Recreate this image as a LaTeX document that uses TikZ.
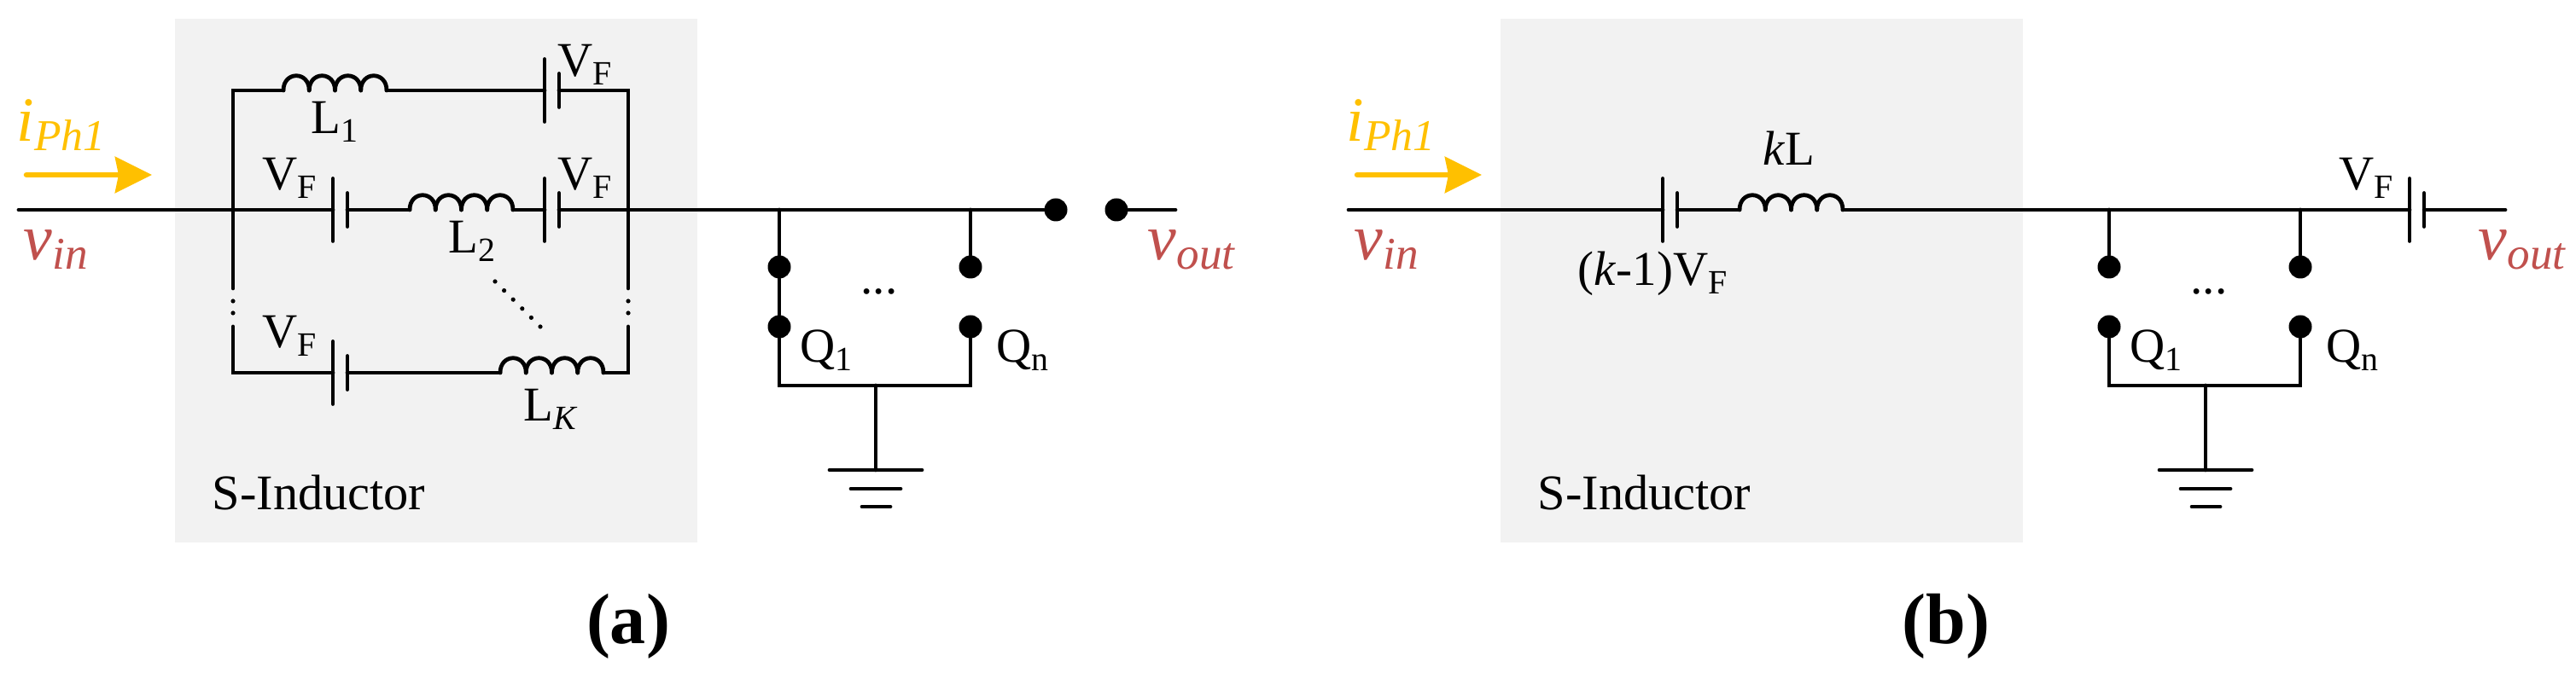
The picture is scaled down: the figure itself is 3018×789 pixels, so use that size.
\documentclass[tikz,border=0pt]{standalone}
\usepackage{fontspec}
\setmainfont{Liberation Serif}
\usetikzlibrary{arrows.meta}
\definecolor{sindgray}{RGB}{242, 242, 242}
\definecolor{iphyellow}{RGB}{255, 192, 0}
\definecolor{vred}{RGB}{192, 80, 77}

\begin{document}
\begin{tikzpicture}[
    x=0.01cm, y=-0.01cm,
    wire/.style={line width=1.35pt, line cap=round},
    sindbox/.style={fill=sindgray},
    lbl/.style={inner sep=0pt, anchor=base west, font=\fontsize{16.2}{18}\selectfont},
    boxlbl/.style={lbl, font=\fontsize{16.6}{18}\selectfont},
    vlbl/.style={inner sep=0pt, anchor=base west, text=vred, font=\fontsize{21.6}{24}\selectfont\itshape},
    ilbl/.style={vlbl, text=iphyellow, font=\fontsize{21}{24}\selectfont\itshape},
    panel/.style={inner sep=0pt, anchor=base, font=\fontsize{23.9}{26}\selectfont\bfseries},
    term/.style={circle, fill=black, inner sep=0pt, minimum size=0.27cm},
    iarrow/.style={line width=1.85pt, line cap=round, iphyellow, -{Stealth[length=0.43cm, width=0.42cm, inset=0.04cm]}},
    coil/.pic={
        \foreach \i in {0,30.25,60.5,90.75}
            \draw[wire] (\i,0) .. controls (\i,-23) and (\i+30.25,-23) .. (\i+30.25,0);
        \coordinate (-in) at (0,0);
        \coordinate (-out) at (121,0);
    },
    cell/.pic={
        \draw[wire] (0,-36.5) -- (0,36.5);
        \draw[wire] (17,-19.5) -- (17,19.5);
        \coordinate (-in) at (0,0);
        \coordinate (-out) at (17,0);
    },
    bank/.pic={
        \node[term] (-ta) at (0,67) {};
        \node[term] (-ba) at (0,137) {};
        \node[term] (-tb) at (224,67) {};
        \node[term] (-bb) at (224,137) {};
        \coordinate (-ca) at (0,206);
        \coordinate (-cb) at (224,206);
        \coordinate (-gnd) at (113,305);
        \draw[wire] (0,0) -- (-ta);
        \draw[wire] (224,0) -- (-tb);
        \draw[wire] (-ba) -- (-ca) -- (-cb) -- (-bb);
        \draw[wire] (113,206) -- (-gnd);
        \draw[wire] (59,305) -- (167,305);
        \draw[wire] (84,327) -- (142,327);
        \draw[wire] (97,348) -- (130,348);
        \node[lbl] (-dots) at (95,99) {...};
        \node[lbl] (-qa) at (24,179) {Q\textsubscript{1}};
        \node[lbl] (-qb) at (254,179) {Q\textsubscript{n}};
    }
]
    \useasboundingbox (0,0) rectangle (3018,789);

    % panel a
    \fill[sindbox] (205,22) rectangle (817,636);
    \node[boxlbl] (sinda) at (248,598) {S-Inductor};
    \node[ilbl] (ipha) at (19,166) {i\textsubscript{Ph1}};
    \node[vlbl] (vina) at (27,305) {v\textsubscript{in}};
    \node[vlbl] (vouta) at (1344,305) {v\textsubscript{out}};
    \node[panel] (capa) at (736,755) {(a)};
    \coordinate (arra) at (31,205);
    \coordinate (arrb) at (178,205);
    \draw[iarrow] (arra) -- (arrb);

    \coordinate (ina) at (22,246);
    \coordinate (outa) at (1377,246);
    \coordinate (tl) at (273,106);
    \coordinate (tr) at (736,106);
    \coordinate (el) at (273,338);
    \coordinate (er) at (736,338);
    \coordinate (sl) at (273,383);
    \coordinate (sr) at (736,383);
    \coordinate (bl) at (273,437);
    \coordinate (br) at (736,437);
    \node[term] (swa) at (1237,246) {};
    \node[term] (swb) at (1308,246) {};

    \pic (la) at (332,106) {coil};
    \pic (lb) at (480,246) {coil};
    \pic (lk) at (586,437) {coil};
    \pic (ca) at (638,106) {cell};
    \pic (cb) at (390,246) {cell};
    \pic (cc) at (638,246) {cell};
    \pic (cd) at (390,437) {cell};
    \pic (qa) at (913,246) {bank};

    \draw[wire] (el) -- (tl) -- (la-in);
    \draw[wire] (la-out) -- (ca-in);
    \draw[wire] (ca-out) -- (tr) -- (er);
    \draw[wire] (ina) -- (cb-in);
    \draw[wire] (cb-out) -- (lb-in);
    \draw[wire] (lb-out) -- (cc-in);
    \draw[wire] (cc-out) -- (swa);
    \draw[wire] (swb) -- (outa);
    \draw[wire] (sl) -- (bl) -- (cd-in);
    \draw[wire] (cd-out) -- (lk-in);
    \draw[wire] (lk-out) -- (br) -- (sr);
    \draw[wire] (qa-ta) -- (qa-ba);

    \foreach \x in {273,736}
        \foreach \y in {353,367}
            \fill (\x,\y) circle (2.6);
    \foreach \i in {0,...,5}
        \fill ({580+10.6*\i},{330+10.6*\i}) circle (2.6);

    \node[lbl] (vfa) at (653,90) {V\textsubscript{F}};
    \node[lbl] (vfb) at (307,223) {V\textsubscript{F}};
    \node[lbl] (vfc) at (653,223) {V\textsubscript{F}};
    \node[lbl] (vfd) at (307,408) {V\textsubscript{F}};
    \node[lbl] (lblla) at (364,157) {L\textsubscript{1}};
    \node[lbl] (lbllb) at (525,297) {L\textsubscript{2}};
    \node[lbl] (lbllk) at (613,494) {L\textsubscript{\textit{K}}};

    % panel b
    \fill[sindbox] (1758,22) rectangle (2370,636);
    \node[boxlbl] (sindb) at (1801,598) {S-Inductor};
    \node[ilbl] (iphb) at (1577,166) {i\textsubscript{Ph1}};
    \node[vlbl] (vinb) at (1586,305) {v\textsubscript{in}};
    \node[vlbl] (voutb) at (2903,305) {v\textsubscript{out}};
    \node[panel] (capb) at (2280,755) {(b)};
    \coordinate (arrc) at (1590,205);
    \coordinate (arrd) at (1736,205);
    \draw[iarrow] (arrc) -- (arrd);

    \coordinate (inb) at (1580,246);
    \coordinate (outb) at (2935,246);
    \pic (ce) at (1948,246) {cell};
    \pic (lc) at (2038,246) {coil};
    \pic (cf) at (2823,246) {cell};
    \pic (qb) at (2471,246) {bank};

    \draw[wire] (inb) -- (ce-in);
    \draw[wire] (ce-out) -- (lc-in);
    \draw[wire] (lc-out) -- (cf-in);
    \draw[wire] (cf-out) -- (outb);

    \node[lbl] (lblk) at (2065,194) {\textit{k}L};
    \node[lbl] (vfe) at (1848,335) {(\textit{k}-1)V\textsubscript{F}};
    \node[lbl] (vff) at (2740,223) {V\textsubscript{F}};
\end{tikzpicture}
\end{document}
